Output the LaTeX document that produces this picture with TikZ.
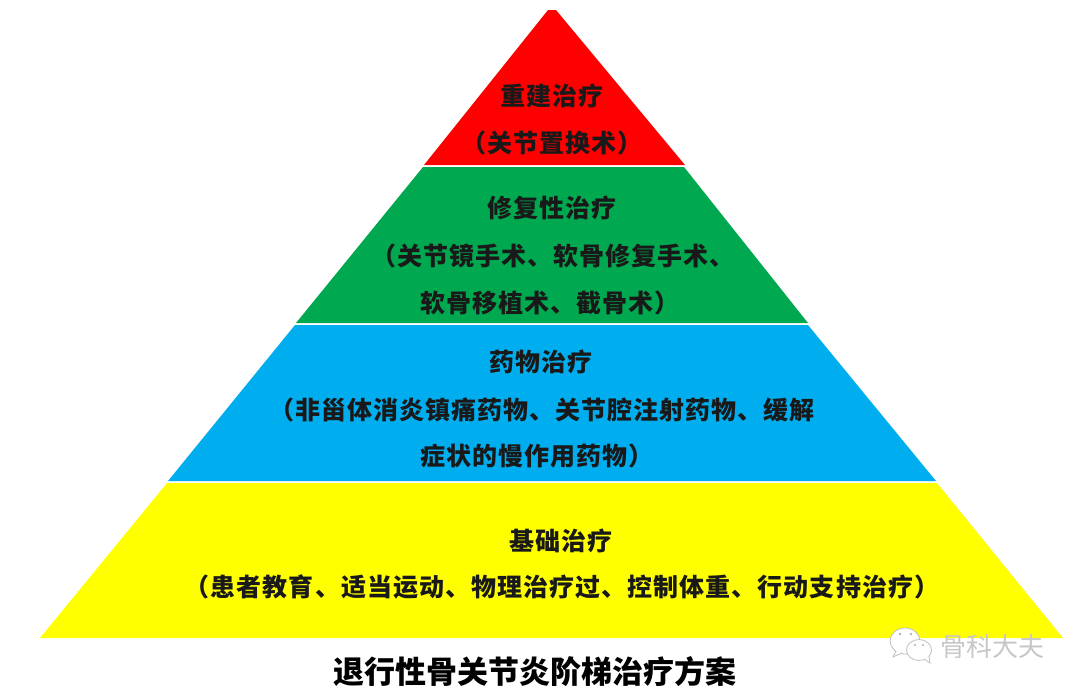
\documentclass[tikz,border=0pt]{standalone}
\usepackage{fontspec}
\newfontfamily\cjk{Noto Sans CJK SC}
\newfontfamily\cjkwide[LetterSpace=4.2]{Noto Sans CJK SC}
\tikzset{
  layertext/.style={font=\cjkwide\bfseries\fontsize{25}{25}\selectfont,text=black!90,inner sep=0pt},
  titletext/.style={font=\cjk\bfseries\fontsize{31}{31}\selectfont,text=black,inner sep=0pt},
  marktext/.style={font=\cjk\fontsize{26}{26}\selectfont,text=black!22,inner sep=0pt},
  bubble/.style={draw=black!25,fill=white,line width=0.8pt},
}
\definecolor{layerred}{HTML}{FF0000}
\definecolor{layergreen}{HTML}{00A84F}
\definecolor{layerblue}{HTML}{00AEEF}
\definecolor{layeryellow}{HTML}{FFFF00}
\begin{document}
\begin{tikzpicture}[x=1pt,y=-1pt]
\useasboundingbox (0,0) rectangle (1080,694);
% pyramid
\fill[layerred] (548,10) -- (556,10) -- (685,165) -- (424,165) -- cycle;
\fill[layergreen] (423,167) -- (684,167) -- (808,323) -- (296,323) -- cycle;
\fill[layerblue] (295,325) -- (808,325) -- (936,481) -- (168,481) -- cycle;
\fill[layeryellow] (167,483) -- (937,483) -- (1063,638) -- (40,638) -- cycle;
% top
\node[layertext] (repair) at (552,96) {重建治疗};
\node[layertext] (repairsub) at (552,143) {（关节置换术）};
% second
\node[layertext] (restore) at (552,208) {修复性治疗};
\node[layertext] (restoresuba) at (553,256) {（关节镜手术、软骨修复手术、};
\node[layertext] (restoresubb) at (550,303) {软骨移植术、截骨术）};
% third
\node[layertext] (drug) at (541,362) {药物治疗};
\node[layertext] (drugsuba) at (542,410) {（非甾体消炎镇痛药物、关节腔注射药物、缓解};
\node[layertext] (drugsubb) at (537,456) {症状的慢作用药物）};
% bottom
\node[layertext] (basic) at (561,541) {基础治疗};
\node[layertext] (basicsub) at (562,587) {（患者教育、适当运动、物理治疗过、控制体重、行动支持治疗）};
% title
\node[titletext] (title) at (535,672) {退行性骨关节炎阶梯治疗方案};
% watermark
\draw[bubble] (905,641) ellipse (15 and 13);
\draw[bubble] (896,651) -- (893,657) -- (902,653);
\draw[bubble] (919,650) ellipse (12.5 and 10.5);
\draw[bubble] (924,659) -- (930,663) -- (929,656);
\fill[black!30] (900,634) circle (1.3) (911,634) circle (1.3) (915,645) circle (1.1) (923,645) circle (1.1);
\node[marktext] (mark) at (992,647) {骨科大夫};
\end{tikzpicture}
\end{document}
